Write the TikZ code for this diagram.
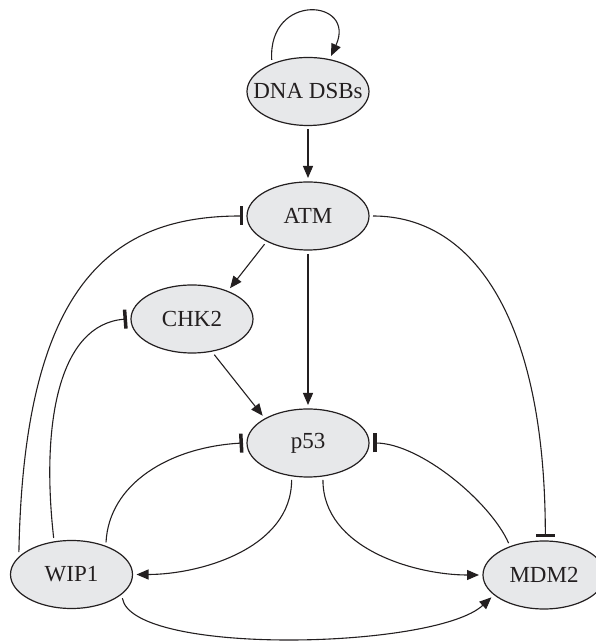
\documentclass[tikz,border=0pt]{standalone}
\usepackage{fontspec}
\setmainfont{Liberation Serif}
\usetikzlibrary{arrows.meta,shapes.geometric}
\definecolor{nodefill}{RGB}{231,232,234}
\definecolor{ink}{RGB}{35,31,32}
\begin{document}
\begin{tikzpicture}[x=1pt,y=1pt,
  gene/.style={ellipse, draw=ink, line width=1.2pt, fill=nodefill,
    minimum width=122pt, minimum height=68pt, inner sep=0pt, outer sep=4pt,
    font=\fontsize{23}{27}\selectfont, text=ink},
  act/.style={draw=ink, line width=1.1pt, -{Triangle[length=12pt,width=10pt]}},
  inh/.style={draw=ink, line width=1.1pt, -{Bar[width=19pt,line width=3.5pt]}}]
\useasboundingbox (0,0) rectangle (595,642);

% species
\node[gene] (dna)  at (308,550.5) {\makebox[0pt]{DNA DSBs}};
\node[gene] (atm)  at (308,426)   {\makebox[0pt]{ATM}};
\node[gene] (chk2) at (192,323)   {\makebox[0pt]{CHK2}};
\node[gene] (p53)  at (308,199)   {\makebox[0pt]{p53}};
\node[gene] (wip1) at (71.5,67.5) {\makebox[0pt]{WIP1}};
\node[gene] (mdm2) at (544,67)    {\makebox[0pt]{MDM2}};

% activations
\draw[act] (dna.139) .. controls +(-4,68) and +(26,57) .. (dna.57);
\draw[act] (dna.south) -- (atm.north);
\draw[act] (atm.213) -- (chk2.39);
\draw[act] (atm.south) -- (p53.north);
\draw[act] (chk2.302) -- (p53.149);
\draw[act] (p53.246) .. controls +(0,-69) and +(63,0) .. (wip1.east);
\draw[act] (p53.292) .. controls +(0,-69) and +(-63,0) .. (mdm2.west);
\draw[act] (wip1.335) .. controls +(10,-58) and +(-56,-52) .. (mdm2.203);

% inhibitions
\draw[inh] (atm.east) .. controls +(102,0) and +(0,215) .. (mdm2.88);
\draw[inh] (wip1.157) .. controls +(5,270) and +(-130,0) .. (atm.west);
\draw[inh] (wip1.116) .. controls +(-13,115) and +(-68,-5) .. (chk2.west);
\draw[inh] (wip1.43) .. controls +(3,59) and +(-73,-4) .. (p53.west);
\draw[inh] (mdm2.138) .. controls +(-18,41) and +(47,0) .. (p53.east);
\end{tikzpicture}
\end{document}
